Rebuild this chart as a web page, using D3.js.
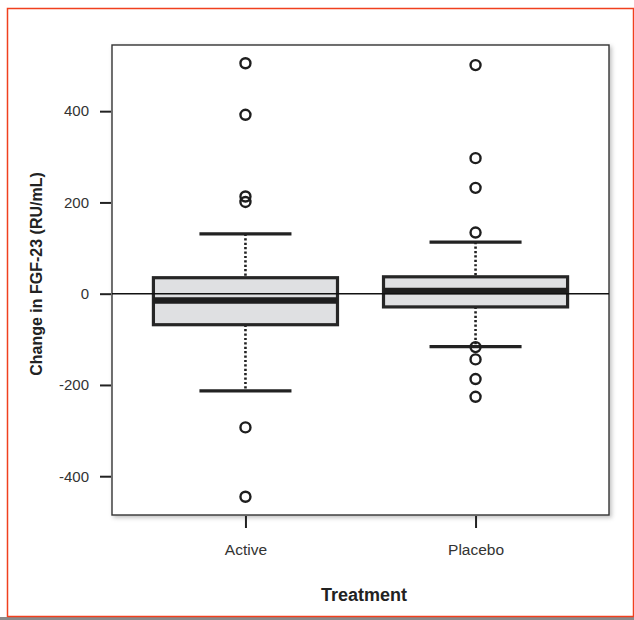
<!DOCTYPE html>
<html>
<head>
<meta charset="utf-8">
<script src="https://cdn.jsdelivr.net/npm/d3@7/dist/d3.min.js"></script>
<style>
  html, body { margin: 0; padding: 0; background: #fff; }
  svg { display: block; }
  text { font-family: "Liberation Sans", Arial, Helvetica, sans-serif; }
</style>
</head>
<body>
<svg id="chart" width="634" height="620"></svg>
<script>
// Treatment groups, drawn at positions 1 and 2
const groups = ["Active", "Placebo"];
// Five-number summaries (lower whisker, Q1, median, Q3, upper whisker), RU/mL
const lowerWhisker = [-213, -116];
const q1 = [-68, -29];
const median = [-15, 6];
const q3 = [35, 37];
const upperWhisker = [131, 113];
// Points beyond the whiskers
const outliersActive = [505, 392, 213, 201, -293, -445];
const outliersPlacebo = [501, 297, 232, 134, -117, -144, -187, -226];
// Y axis tick values
const yTicks = [-400, -200, 0, 200, 400];

const outliers = [outliersActive, outliersPlacebo];

const svg = d3.select("#chart");

// Frame around the figure
svg.append("rect")
  .attr("x", 0).attr("y", 617).attr("width", 634).attr("height", 3)
  .attr("fill", "#8a8a8a");
svg.append("rect")
  .attr("x", 7.5).attr("y", 8.5).attr("width", 626).attr("height", 608)
  .attr("fill", "none").attr("stroke", "#f0401e").attr("stroke-width", 1.5);

const plot = { left: 112, right: 609, top: 45, bottom: 515 };

const x = d3.scaleLinear().domain([0.42, 2.58]).range([plot.left, plot.right]);
const y = d3.scaleLinear().domain([-485, 545]).range([plot.bottom, plot.top]);

// Soft shadow under the plotting region
const defs = svg.append("defs");
const f = defs.append("filter").attr("id", "shadow")
  .attr("x", "-5%").attr("y", "-5%").attr("width", "110%").attr("height", "110%");
f.append("feDropShadow").attr("dx", 2).attr("dy", 2).attr("stdDeviation", 2)
  .attr("flood-color", "#000").attr("flood-opacity", 0.25);

svg.append("rect")
  .attr("x", plot.left).attr("y", plot.top)
  .attr("width", plot.right - plot.left).attr("height", plot.bottom - plot.top)
  .attr("fill", "#fff").attr("stroke", "#333").attr("stroke-width", 1.4)
  .attr("filter", "url(#shadow)");

// Y axis
const yAxis = d3.axisLeft(y).tickValues(yTicks).tickSize(11).tickPadding(11)
  .tickFormat(d3.format("d"));
const gy = svg.append("g").attr("transform", `translate(${plot.left - 1},0)`).call(yAxis);
gy.select(".domain").remove();
gy.selectAll(".tick line").attr("stroke", "#222").attr("stroke-width", 2);
gy.selectAll(".tick text").attr("fill", "#333").attr("font-size", 15)
  .attr("font-family", "'Liberation Sans', Arial, sans-serif")
  .text(d => d < 0 ? "-" + Math.abs(d) : d);

// X axis
const xAxis = d3.axisBottom(x).tickValues([1, 2]).tickSize(12).tickPadding(10)
  .tickFormat((d, i) => groups[i]);
const gx = svg.append("g").attr("transform", `translate(0,${plot.bottom + 1})`).call(xAxis);
gx.select(".domain").remove();
gx.selectAll(".tick line").attr("stroke", "#222").attr("stroke-width", 2);
gx.selectAll(".tick text").attr("fill", "#333").attr("font-size", 15.5)
  .attr("font-family", "'Liberation Sans', Arial, sans-serif")
  .attr("y", 39).attr("dy", null);

// Axis titles
svg.append("text")
  .attr("transform", "translate(42,274) rotate(-90)")
  .attr("text-anchor", "middle").attr("font-size", 16).attr("font-weight", "bold")
  .attr("fill", "#222").text("Change in FGF-23 (RU/mL)");
svg.append("text")
  .attr("x", 364).attr("y", 601)
  .attr("text-anchor", "middle").attr("font-size", 18).attr("font-weight", "bold")
  .attr("fill", "#222").text("Treatment");

const g = svg.append("g");
const boxHalf = 0.4, capHalf = 0.2;

groups.forEach((name, i) => {
  const pos = i + 1;
  const cx = x(pos);
  // Dotted whiskers
  g.append("line").attr("x1", cx).attr("x2", cx)
    .attr("y1", y(upperWhisker[i])).attr("y2", y(q3[i]))
    .attr("stroke", "#222").attr("stroke-width", 2.6).attr("stroke-dasharray", "2.2,2.2");
  g.append("line").attr("x1", cx).attr("x2", cx)
    .attr("y1", y(q1[i])).attr("y2", y(lowerWhisker[i]))
    .attr("stroke", "#222").attr("stroke-width", 2.6).attr("stroke-dasharray", "2.2,2.2");
  // Whisker caps
  [upperWhisker[i], lowerWhisker[i]].forEach(v => {
    g.append("line")
      .attr("x1", x(pos - capHalf)).attr("x2", x(pos + capHalf))
      .attr("y1", y(v)).attr("y2", y(v))
      .attr("stroke", "#222").attr("stroke-width", 3.2);
  });
  // Box
  g.append("rect")
    .attr("x", x(pos - boxHalf)).attr("y", y(q3[i]))
    .attr("width", x(pos + boxHalf) - x(pos - boxHalf))
    .attr("height", y(q1[i]) - y(q3[i]))
    .attr("fill", "#dfe0e2").attr("stroke", "#262626").attr("stroke-width", 3.2);
  // Median
  g.append("line")
    .attr("x1", x(pos - boxHalf)).attr("x2", x(pos + boxHalf))
    .attr("y1", y(median[i])).attr("y2", y(median[i]))
    .attr("stroke", "#1e1e1e").attr("stroke-width", 6.5);
  // Outliers
  g.selectAll(null).data(outliers[i]).enter().append("circle")
    .attr("cx", cx).attr("cy", d => y(d)).attr("r", 5)
    .attr("fill", "none").attr("stroke", "#1e1e1e").attr("stroke-width", 2.4);
});

// Reference line at zero
svg.append("line")
  .attr("x1", plot.left).attr("x2", plot.right)
  .attr("y1", y(0)).attr("y2", y(0))
  .attr("stroke", "#111").attr("stroke-width", 1.4);
</script>
</body>
</html>
